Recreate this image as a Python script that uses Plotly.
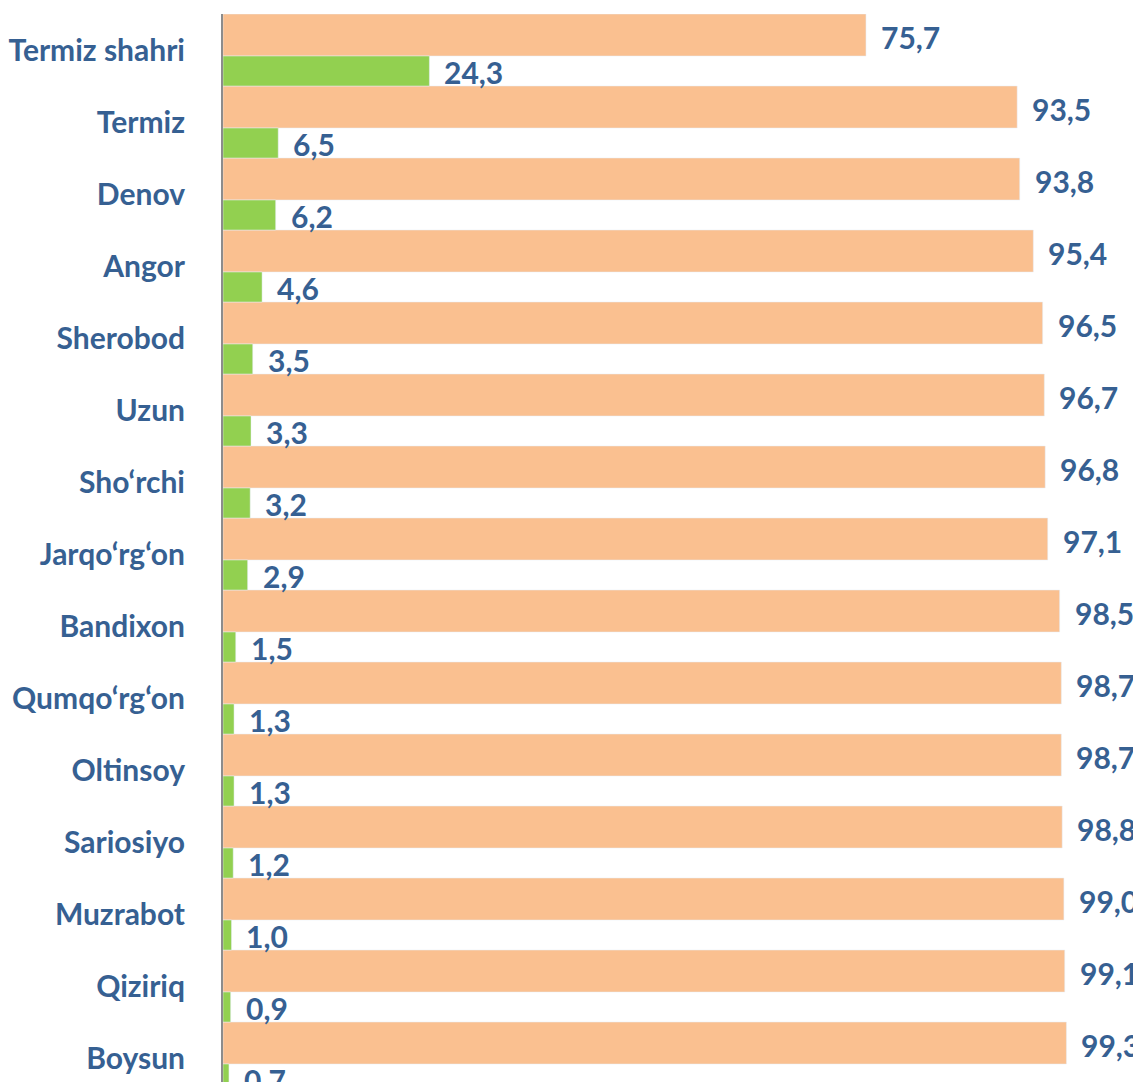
import plotly.graph_objects as go

districts = [
    "Termiz shahri", "Termiz", "Denov", "Angor", "Sherobod", "Uzun",
    "Sho\u2018rchi", "Jarqo\u2018rg\u2018on", "Bandixon", "Qumqo\u2018rg\u2018on",
    "Oltinsoy", "Sariosiyo", "Muzrabot", "Qiziriq", "Boysun",
]
orange_vals = [75.7, 93.5, 93.8, 95.4, 96.5, 96.7, 96.8, 97.1, 98.5, 98.7,
               98.7, 98.8, 99.0, 99.1, 99.3]
green_vals = [24.3, 6.5, 6.2, 4.6, 3.5, 3.3, 3.2, 2.9, 1.5, 1.3,
              1.3, 1.2, 1.0, 0.9, 0.7]

ORANGE = "#FAC090"
GREEN = "#92D050"
TEXT = "#366092"
FONT = "Lato"
FS = 30

pos = list(range(len(districts)))

# orange bar sits in the upper part of each slot, green below it
o_off, o_w = -0.5, 0.5833
g_off, g_w = 0.0833, 0.4167

fig = go.Figure()
fig.add_trace(go.Bar(y=pos, x=orange_vals, orientation="h", marker_color=ORANGE,
                     width=o_w, offset=o_off, hoverinfo="x"))
fig.add_trace(go.Bar(y=pos, x=green_vals, orientation="h", marker_color=GREEN,
                     width=g_w, offset=g_off, hoverinfo="x"))


def fmt(v):
    return f"{v:.1f}".replace(".", ",")


annotations = []
for i, (o, g) in enumerate(zip(orange_vals, green_vals)):
    annotations.append(dict(x=o, y=i + o_off + o_w / 2, text=fmt(o), xanchor="left",
                            xshift=13, yshift=-2, showarrow=False))
    annotations.append(dict(x=g, y=i + g_off + g_w / 2, text=fmt(g), xanchor="left",
                            xshift=13, yshift=-1, showarrow=False))

# page body adds an 8px offset
fig.update_layout(
    width=1133, height=1074,
    margin=dict(l=215, r=0, t=6, b=0, autoexpand=False),
    paper_bgcolor="white", plot_bgcolor="white",
    barmode="overlay", showlegend=False,
    font=dict(family=FONT, size=FS, color=TEXT, weight="bold"),
    annotations=annotations,
)
fig.update_xaxes(range=[0, 108.08], visible=False, showgrid=False, automargin=False)
fig.update_yaxes(
    range=[14.333, -0.5], tickvals=pos, ticktext=districts, automargin=False,
    showgrid=False, zeroline=False, showline=True, linecolor="#8C8C8C", linewidth=2,
    ticks="", ticklabelstandoff=30,
    tickfont=dict(family=FONT, size=FS, color=TEXT, weight="bold"),
)

fig.write_html("out.html")
